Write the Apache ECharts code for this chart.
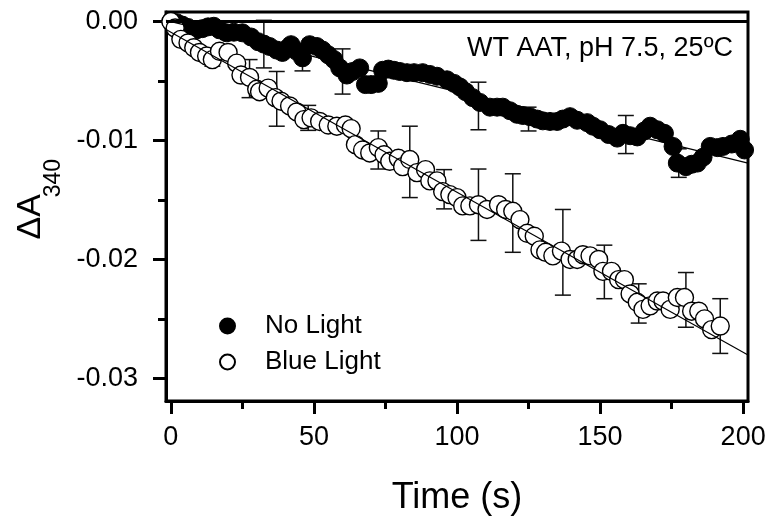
<!DOCTYPE html>
<html>
<head>
<meta charset="utf-8">
<script src="https://cdn.jsdelivr.net/npm/echarts@6/dist/echarts.min.js"></script>
<style>
  html, body { margin: 0; padding: 0; background: #fff; }
  #chart { width: 773px; height: 525px; }
</style>
</head>
<body>
<div id="chart"></div>
<script>
// time (s) and ΔA340
const noLightTime = [0, 2, 4, 6, 9, 11, 13, 15, 17, 19.5, 22, 25, 28, 30.5, 32.5, 34.5, 37, 39, 41, 42, 44, 46, 48.5, 51, 53, 55, 57, 59, 61.5, 63.5, 66, 68, 70, 72.5, 74, 76, 78, 80, 82.5, 85, 88, 90.5, 93, 96.5, 99, 101, 103, 105.5, 108, 111.5, 114, 116, 118.5, 121, 123, 125.5, 128, 130, 132.5, 135, 137, 139.5, 142, 145.5, 147.5, 150, 153, 156, 158, 160.5, 163, 165.5, 167.5, 170, 172.5, 175.5, 177, 180, 182, 184, 186, 188.5, 191, 193, 196, 199, 200.5];
const noLightDA = [0, -0.0001, -0.0003, -0.0005, -0.0007, -0.0006, -0.00045, -0.0004, -0.0007, -0.00095, -0.0009, -0.00095, -0.0013, -0.0017, -0.0019, -0.0021, -0.0024, -0.0026, -0.0022, -0.00195, -0.0025, -0.00305, -0.00195, -0.0021, -0.0024, -0.0028, -0.0032, -0.0039, -0.0045, -0.0042, -0.0039, -0.0053, -0.0053, -0.0052, -0.0041, -0.004, -0.0041, -0.0042, -0.0043, -0.0043, -0.0043, -0.00445, -0.0046, -0.0049, -0.0052, -0.0055, -0.0059, -0.0064, -0.0068, -0.0072, -0.0072, -0.0072, -0.0075, -0.0078, -0.0079, -0.008, -0.0082, -0.00835, -0.0084, -0.0084, -0.0082, -0.008, -0.0083, -0.0085, -0.0088, -0.0091, -0.0095, -0.0098, -0.0094, -0.0096, -0.0097, -0.0092, -0.0088, -0.0091, -0.0094, -0.0105, -0.0119, -0.0122, -0.012, -0.0119, -0.0114, -0.0105, -0.0106, -0.0105, -0.0103, -0.0099, -0.0108];

const blueTime = [0, 1.5, 3.5, 6, 8, 10, 12.5, 14.5, 17, 20, 23, 24.5, 27.5, 30, 31, 34, 36.5, 38.5, 41.5, 44, 46.5, 49, 52, 55, 58, 61, 63, 64.5, 67, 69.5, 72.5, 74.5, 76.5, 79.5, 81, 83.5, 86, 89, 90.5, 93, 95, 97.5, 100, 102, 104.5, 107.5, 110.5, 114.5, 117, 119.5, 122, 124.5, 127, 129, 131, 133.5, 136.5, 139.5, 142, 144, 146.5, 149.5, 151, 154, 156.5, 158.5, 160.5, 163, 165, 167.5, 170, 172, 174.5, 177, 179.5, 182, 184.5, 186.5, 189, 192];
const blueDA = [0, -0.00055, -0.0015, -0.0018, -0.0022, -0.0026, -0.0029, -0.0032, -0.0025, -0.0026, -0.0035, -0.0045, -0.0047, -0.0057, -0.0059, -0.0056, -0.0064, -0.0067, -0.0071, -0.0076, -0.00825, -0.0081, -0.0084, -0.0087, -0.0088, -0.0087, -0.009, -0.01035, -0.0108, -0.01105, -0.0106, -0.0112, -0.01175, -0.0115, -0.0122, -0.0116, -0.0127, -0.01245, -0.0134, -0.0134, -0.0143, -0.01455, -0.0148, -0.0155, -0.0155, -0.0154, -0.0158, -0.0154, -0.0158, -0.01595, -0.01665, -0.0178, -0.01805, -0.0192, -0.0194, -0.0197, -0.0193, -0.02, -0.02, -0.0196, -0.0197, -0.02, -0.021, -0.021, -0.0217, -0.0217, -0.0229, -0.0236, -0.0242, -0.0239, -0.0235, -0.0235, -0.0242, -0.0232, -0.0232, -0.02435, -0.02435, -0.025, -0.0259, -0.0256];

// error bars: time, centre, half width
const noLightErrTime = [20, 32.5, 46, 60, 107.5, 125, 159, 177.5];
const noLightErrMid = [-0.00095, -0.0019, -0.00305, -0.0042, -0.0071, -0.0082, -0.0095, -0.0119];
const noLightErrHalf = [0.00055, 0.002, 0.0011, 0.0019, 0.002, 0.001, 0.0016, 0.0012];

const blueErrTime = [14.5, 27.5, 37, 48, 72.5, 83.5, 95.5, 107.5, 119.5, 137, 151.5, 163.5, 180, 192];
const blueErrMid = [-0.0032, -0.0048, -0.0065, -0.0081, -0.0108, -0.0118, -0.0141, -0.0154, -0.0161, -0.0194, -0.02105, -0.0237, -0.0234, -0.0256];
const blueErrHalf = [0.00055, 0.0016, 0.0023, 0.00105, 0.0016, 0.003, 0.00165, 0.003, 0.0033, 0.0036, 0.00225, 0.00165, 0.0023, 0.0023];

// linear fits: [intercept, slope]
const noLightFit = [0, -0.0000590];
const blueFit = [-0.0009, -0.0001345];

const xMajor = [0, 50, 100, 150, 200];
const xMinor = [25, 75, 125, 175];
const yMajor = [0, -0.01, -0.02, -0.03];
const yMinor = [-0.005, -0.015, -0.025];

const X_MIN = -1.7, X_MAX = 201.7;
const Y_MIN = -0.0319, Y_MAX = 0.0008;

const pairs = (xs, ys) => xs.map((x, i) => [x, ys[i]]);
const errRows = (t, m, h) => t.map((x, i) => [x, m[i] - h[i], m[i] + h[i]]);
const fitLine = (f) => [[X_MIN, f[0] + f[1] * X_MIN], [X_MAX, f[0] + f[1] * X_MAX]];

const FONT = 'Liberation Sans, Arial, Helvetica, sans-serif';

function errorBar(params, api) {
  const x = api.value(0);
  const lo = api.coord([x, api.value(1)]);
  const hi = api.coord([x, api.value(2)]);
  const cap = 8;
  const style = { stroke: '#111', lineWidth: 1.5 };
  return {
    type: 'group',
    children: [
      { type: 'line', shape: { x1: lo[0], y1: lo[1], x2: hi[0], y2: hi[1] }, style: style },
      { type: 'line', shape: { x1: lo[0] - cap, y1: lo[1], x2: lo[0] + cap, y2: lo[1] }, style: style },
      { type: 'line', shape: { x1: hi[0] - cap, y1: hi[1], x2: hi[0] + cap, y2: hi[1] }, style: style }
    ]
  };
}

const chart = echarts.init(document.getElementById('chart'), null, { renderer: 'canvas' });

const axisLineStyle = { color: '#000', width: 3 };

chart.setOption({
  animation: false,
  backgroundColor: '#fff',
  textStyle: { fontFamily: FONT },
  grid: { left: 166, right: 25, top: 12, bottom: 124, show: true, borderColor: '#000', borderWidth: 3, backgroundColor: 'transparent' },
  legend: {
    data: ['No Light', 'Blue Light'],
    orient: 'vertical',
    left: 214,
    top: 308,
    itemWidth: 15,
    itemHeight: 15,
    itemGap: 10,
    textStyle: { fontSize: 26, color: '#000', fontFamily: FONT, padding: [0, 0, 0, 25] }
  },
  xAxis: [
    {
      type: 'value', min: X_MIN, max: X_MAX,
      axisLine: { onZero: false, lineStyle: axisLineStyle },
      axisTick: { show: true, inside: false, length: 13, lineStyle: axisLineStyle, customValues: xMajor },
      axisLabel: { customValues: xMajor, fontSize: 27, color: '#000', margin: 23, fontFamily: FONT },
      splitLine: { show: false },
      name: 'Time (s)', nameLocation: 'middle', nameGap: 79,
      nameTextStyle: { fontSize: 36, color: '#000', fontFamily: FONT }
    },
    {
      type: 'value', min: X_MIN, max: X_MAX, position: 'bottom',
      axisLine: { show: false, onZero: false },
      axisTick: { show: true, inside: false, length: 8, lineStyle: axisLineStyle, customValues: xMinor },
      axisLabel: { show: false },
      splitLine: { show: false }
    }
  ],
  yAxis: [
    {
      type: 'value', min: Y_MIN, max: Y_MAX,
      axisLine: { onZero: false, lineStyle: axisLineStyle },
      axisTick: { show: true, inside: false, length: 13, lineStyle: axisLineStyle, customValues: yMajor },
      axisLabel: { customValues: yMajor, fontSize: 27, color: '#000', margin: 28, fontFamily: FONT, formatter: (v) => v.toFixed(2) },
      splitLine: { show: false }
    },
    {
      type: 'value', min: Y_MIN, max: Y_MAX, position: 'left',
      axisLine: { show: false, onZero: false },
      axisTick: { show: true, inside: false, length: 8, lineStyle: axisLineStyle, customValues: yMinor },
      axisLabel: { show: false },
      splitLine: { show: false }
    }
  ],
  graphic: [
    { type: 'text', left: 14, top: 194, rotation: Math.PI / 2, style: { text: 'ΔA', font: '34px ' + FONT, fill: '#000' } },
    { type: 'text', left: 42, top: 159, rotation: Math.PI / 2, style: { text: '340', font: '23px ' + FONT, fill: '#000' } },
    { type: 'text', right: 40, top: 35, style: { text: 'WT AAT, pH 7.5, 25ºC', font: '27px ' + FONT, fill: '#000' } }
  ],
  series: [
    {
      name: 'noLightErr', type: 'custom', renderItem: errorBar, z: 1,
      data: errRows(noLightErrTime, noLightErrMid, noLightErrHalf), silent: true
    },
    {
      name: 'blueErr', type: 'custom', renderItem: errorBar, z: 1,
      data: errRows(blueErrTime, blueErrMid, blueErrHalf), silent: true
    },
    {
      name: 'No Light', type: 'scatter', z: 3, symbol: 'circle', symbolSize: 18,
      itemStyle: { color: '#000', borderColor: '#000', borderWidth: 1, opacity: 1 },
      data: pairs(noLightTime, noLightDA)
    },
    {
      name: 'Blue Light', type: 'scatter', z: 3, symbol: 'circle', symbolSize: 18,
      itemStyle: { color: '#fff', borderColor: '#000', borderWidth: 1.4, opacity: 1 },
      data: pairs(blueTime, blueDA)
    },
    {
      name: 'noLightFit', type: 'line', z: 4, symbol: 'none', silent: true,
      lineStyle: { color: '#000', width: 1.2 },
      data: fitLine(noLightFit),
      markLine: {
        silent: true, symbol: 'none', label: { show: false },
        lineStyle: { color: '#000', width: 3, type: 'solid' },
        data: [{ yAxis: 0 }]
      }
    },
    {
      name: 'blueFit', type: 'line', z: 4, symbol: 'none', silent: true,
      lineStyle: { color: '#000', width: 1.2 },
      data: fitLine(blueFit)
    }
  ]
});
</script>
</body>
</html>
